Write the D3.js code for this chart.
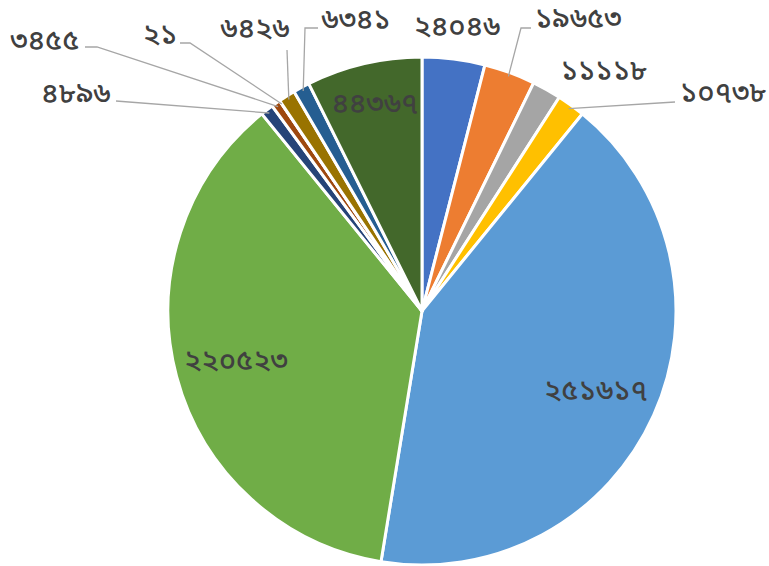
<!DOCTYPE html>
<html>
<head>
<meta charset="utf-8">
<script src="https://cdn.jsdelivr.net/npm/d3@7"></script>
<style>
  body { margin: 0; background: #fff; }
  text { font-family: "Noto Sans Bengali", "Noto Sans", sans-serif; }
</style>
</head>
<body>
<div id="chart-area"></div>
<script>
// slice values, clockwise from 12 o'clock
var values = [24046, 19653, 11118, 10738, 251617, 220523, 4896, 3455, 21, 6426, 6341, 44367];
var labels = ["২৪০৪৬", "১৯৬৫৩", "১১১১৮", "১০৭৩৮", "২৫১৬১৭", "২২০৫২৩",
              "৪৮৯৬", "৩৪৫৫", "২১", "৬৪২৬", "৬৩৪১", "৪৪৩৬৭"];
var colors = ["#4472C4", "#ED7D31", "#A5A5A5", "#FFC000", "#5B9BD5", "#70AD47",
              "#264478", "#9E480E", "#636363", "#997300", "#255E91", "#43682B"];

var width = 769, height = 566;
var cx = 422, cy = 311, radius = 254;

// label placement (Excel manual layout): text anchor point + leader elbow
var labelLayout = [
    { x: 457, y: 26, anchor: "middle" },
    { x: 535, y: 18, anchor: "start", elbow: [521, 28], end: [531, 28] },
    { x: 604, y: 70, anchor: "middle" },
    { x: 680, y: 92, anchor: "start", end: [675, 102] },
    { x: 596, y: 390, anchor: "middle" },
    { x: 236, y: 360, anchor: "middle" },
    { x: 76, y: 93, anchor: "middle", end: [116, 101] },
    { x: 45, y: 40, anchor: "middle", elbow: [97, 47], end: [85, 47] },
    { x: 160, y: 34, anchor: "middle", elbow: [190, 43], end: [180, 43] },
    { x: 255, y: 28, anchor: "middle", end: [287, 50] },
    { x: 356, y: 19, anchor: "middle", elbow: [305, 28], end: [318, 28] },
    { x: 375, y: 103, anchor: "middle" }
];

var svg = d3.select("#chart-area")
    .append("svg")
        .attr("width", width)
        .attr("height", height);

var g = svg.append("g")
    .attr("transform", "translate(" + cx + "," + cy + ")");

var pie = d3.pie().sort(null).value(function(d){ return d; });
var arcs = pie(values);

var arc = d3.arc().innerRadius(0).outerRadius(radius);

// slices
g.selectAll("path.slice")
    .data(arcs)
    .enter()
    .append("path")
        .attr("class", "slice")
        .attr("d", arc)
        .attr("fill", function(d, i){ return colors[i]; })
        .attr("stroke", "#fff")
        .attr("stroke-width", 3)
        .attr("stroke-linejoin", "round");

// leader lines
arcs.forEach(function(d, i) {
    var L = labelLayout[i];
    if (!L.end) return;
    var a = (d.startAngle + d.endAngle) / 2;
    var p0 = [cx + Math.sin(a) * (radius - 4), cy - Math.cos(a) * (radius - 4)];
    var pts = [p0];
    if (L.elbow) pts.push(L.elbow);
    pts.push(L.end);
    svg.append("polyline")
        .attr("points", pts.map(function(p){ return p.join(","); }).join(" "))
        .attr("fill", "none")
        .attr("stroke", "#A6A6A6")
        .attr("stroke-width", 1.3);
});

// labels
svg.selectAll("text.lbl")
    .data(labels)
    .enter()
    .append("text")
        .attr("class", "lbl")
        .attr("x", function(d, i){ return labelLayout[i].x; })
        .attr("y", function(d, i){ return labelLayout[i].y; })
        .attr("dy", "0.35em")
        .attr("text-anchor", function(d, i){ return labelLayout[i].anchor; })
        .attr("font-size", "29px")
        .attr("font-weight", 500)
        .attr("fill", "#404040")
        .text(function(d){ return d; });
</script>
</body>
</html>
